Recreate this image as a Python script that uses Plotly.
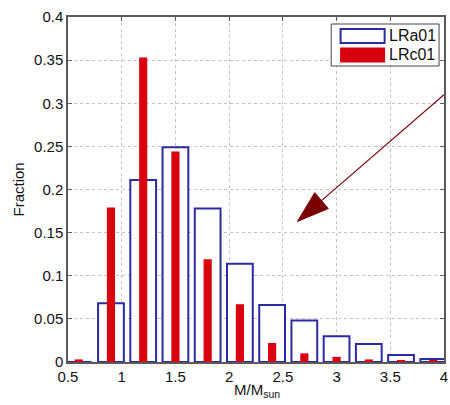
import math
import plotly.graph_objects as go

# Mass bins (M/M_sun) and the fraction of stars falling in each bin
mass_bins = [0.6, 0.9, 1.2, 1.5, 1.8, 2.1, 2.4, 2.7, 3.0, 3.3, 3.6, 3.9]
frac_lra01 = [0.0, 0.068, 0.211, 0.249, 0.178, 0.114, 0.066, 0.048, 0.030, 0.021, 0.008, 0.0035]
frac_lrc01 = [0.003, 0.179, 0.353, 0.244, 0.119, 0.067, 0.022, 0.010, 0.006, 0.003, 0.0015, 0.0015]
series_names = ["LRa01", "LRc01"]

x_ticks = [0.5, 1, 1.5, 2, 2.5, 3, 3.5, 4]
y_ticks = [0, 0.05, 0.1, 0.15, 0.2, 0.25, 0.3, 0.35, 0.4]
x_tick_text = ["0.5", "1", "1.5", "2", "2.5", "3", "3.5", "4"]
y_tick_text = ["0", "0.05", "0.1", "0.15", "0.2", "0.25", "0.3", "0.35", "0.4"]

# Pointer arrow (data coordinates): head tip and far end
arrow_tip = (2.636, 0.163)
arrow_tail = (4.0, 0.310)

BLUE = "#2b2ba3"
RED = "#d9000f"
DARK_RED = "#7a0000"
AXIS = "#5a5a5a"
FONT = "Liberation Sans, Arial, Helvetica, sans-serif"

W, H = 450, 405
M = dict(l=68, r=2, t=17, b=43)
X_RANGE = [0.5, 4.0]
Y_RANGE = [0.0, 0.4]
px_x = (W - M["l"] - M["r"]) / (X_RANGE[1] - X_RANGE[0])
px_y = (H - M["t"] - M["b"]) / (Y_RANGE[1] - Y_RANGE[0])

fig = go.Figure()
fig.add_trace(go.Bar(
    x=mass_bins, y=frac_lra01, name=series_names[0], width=0.24,
    marker=dict(color="white", line=dict(color=BLUE, width=2)),
))
fig.add_trace(go.Bar(
    x=mass_bins, y=frac_lrc01, name=series_names[1], width=0.076,
    marker=dict(color=RED, line=dict(width=0)),
))

# Arrow: shaft plus a filled triangular head, sized in pixels
dxp = (arrow_tail[0] - arrow_tip[0]) * px_x
dyp = (arrow_tail[1] - arrow_tip[1]) * px_y
L = math.hypot(dxp, dyp)
ux, uy = dxp / L, dyp / L
head_len, head_half = 32, 10.5
bx, by = head_len * ux, head_len * uy
p1 = (arrow_tip[0] + (bx - head_half * uy) / px_x, arrow_tip[1] + (by + head_half * ux) / px_y)
p2 = (arrow_tip[0] + (bx + head_half * uy) / px_x, arrow_tip[1] + (by - head_half * ux) / px_y)
base = (arrow_tip[0] + bx / px_x, arrow_tip[1] + by / px_y)

fig.add_shape(type="line", xref="x", yref="y",
              x0=base[0], y0=base[1], x1=arrow_tail[0], y1=arrow_tail[1],
              line=dict(color=DARK_RED, width=1.2))
fig.add_shape(type="path", xref="x", yref="y",
              path=f"M{arrow_tip[0]},{arrow_tip[1]} L{p1[0]},{p1[1]} L{p2[0]},{p2[1]} Z",
              fillcolor=DARK_RED, line=dict(color=DARK_RED, width=1))

# Legend box drawn in paper coordinates
def px_to_paper(xp, yp):
    return ((xp - M["l"]) / (W - M["l"] - M["r"]),
            (H - M["b"] - yp) / (H - M["t"] - M["b"]))

lx0, ly0 = px_to_paper(334, 66)
lx1, ly1 = px_to_paper(443, 24)
fig.add_shape(type="rect", xref="paper", yref="paper", x0=lx0, y0=ly0, x1=lx1, y1=ly1,
              fillcolor="white", line=dict(color="#444444", width=1))
a0x, a0y = px_to_paper(343.5, 43)
a1x, a1y = px_to_paper(388, 29)
fig.add_shape(type="rect", xref="paper", yref="paper", x0=a0x, y0=a0y, x1=a1x, y1=a1y,
              fillcolor="white", line=dict(color=BLUE, width=2))
c0x, c0y = px_to_paper(343, 62.5)
c1x, c1y = px_to_paper(388.5, 47.5)
fig.add_shape(type="rect", xref="paper", yref="paper", x0=c0x, y0=c0y, x1=c1x, y1=c1y,
              fillcolor=RED, line=dict(width=0))
for name, yp in zip(series_names, [36, 55]):
    tx, ty = px_to_paper(390, yp)
    fig.add_annotation(x=tx, y=ty, xref="paper", yref="paper", text=name,
                       showarrow=False, xanchor="left", yanchor="middle",
                       font=dict(family=FONT, size=16, color="#111111"))

# Axis titles
tx, ty = px_to_paper(259, 379)
fig.add_annotation(x=tx, y=ty, xref="paper", yref="paper", text="M/M<sub>sun</sub>",
                   showarrow=False, xanchor="center", yanchor="top",
                   font=dict(family=FONT, size=15, color="#111111"))
tx, ty = px_to_paper(18, 190)
fig.add_annotation(x=tx, y=ty, xref="paper", yref="paper", text="Fraction",
                   showarrow=False, textangle=-90, xanchor="center", yanchor="middle",
                   font=dict(family=FONT, size=15, color="#111111"))

axis_common = dict(
    showline=True, linecolor=AXIS, linewidth=1.5, mirror="ticks",
    ticks="inside", ticklen=4, tickcolor=AXIS, tickwidth=1,
    showgrid=True, gridcolor="#c4c4c4", griddash="dot", gridwidth=1,
    zeroline=False, layer="below traces", ticklabeloverflow="allow",
    tickfont=dict(family=FONT, size=15, color="#111111"),
)
fig.update_xaxes(range=X_RANGE, tickmode="array", tickvals=x_ticks, ticktext=x_tick_text,
                 **axis_common)
fig.update_yaxes(range=Y_RANGE, tickmode="array", tickvals=y_ticks, ticktext=y_tick_text,
                 **axis_common)

fig.update_layout(
    width=W, height=H, margin=M, barmode="overlay", showlegend=False,
    paper_bgcolor="white", plot_bgcolor="white",
)

fig.write_html("out.html")
